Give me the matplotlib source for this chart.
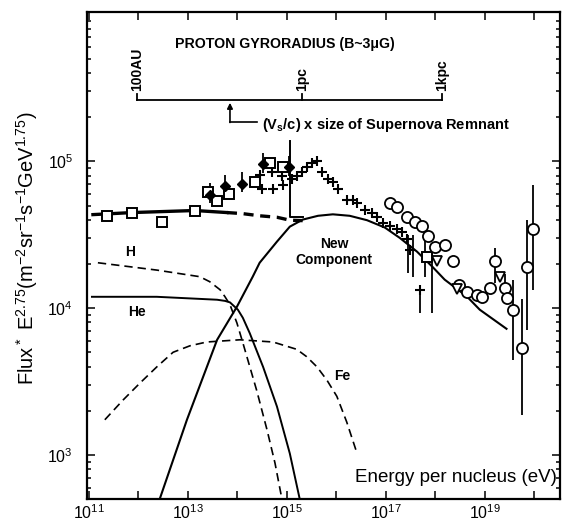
"""
Cosmic ray all-particle spectrum (flux * E^2.75) with model components.
"""
import numpy as np
import matplotlib
matplotlib.use('Agg')
import matplotlib.pyplot as plt

plt.rcParams['font.family'] = ['Liberation Sans', 'DejaVu Sans']
plt.rcParams['mathtext.default'] = 'regular'

# model curves as (log10 E, log10 flux)
h_logE = [11.18, 12.37, 13.24, 13.44, 13.65, 13.75, 13.85, 13.99, 14.11, 14.39,
          14.60, 14.76, 14.90]
h_logF = [4.31, 4.26, 4.215, 4.181, 4.126, 4.078, 4.024, 3.90, 3.765, 3.44,
          3.17, 2.945, 2.70]

he_logE = [11.06, 12.37, 13.59, 13.75, 13.85, 14.01, 14.11, 14.25, 14.52, 14.80,
           15.06, 15.26]
he_logF = [4.078, 4.078, 4.058, 4.05, 4.04, 3.99, 3.935, 3.83, 3.60, 3.33,
           3.01, 2.70]

fe_logE = [11.32, 11.69, 12.03, 12.37, 12.70, 13.04, 13.38, 14.05, 14.72, 15.20,
           15.40, 15.61, 15.81, 16.01, 16.21, 16.41]
fe_logF = [3.24, 3.375, 3.49, 3.60, 3.70, 3.744, 3.77, 3.785, 3.77, 3.72,
           3.67, 3.60, 3.51, 3.40, 3.225, 3.02]

new_logE = [12.43, 12.98, 13.59, 13.99, 14.31, 14.45, 14.80, 15.06, 15.32, 15.63,
            15.93, 16.27, 16.62, 16.98, 17.28, 17.63, 17.95, 18.19, 18.64, 18.90,
            19.44]
new_logF = [2.70, 3.24, 3.785, 4.01, 4.215, 4.31, 4.454, 4.556, 4.604, 4.63,
            4.64, 4.63, 4.60, 4.55, 4.48, 4.386, 4.28, 4.195, 4.08, 3.99,
            3.86]

tot_solid_logE = [11.08, 11.87, 13.14, 13.79]
tot_solid_logF = [4.638, 4.652, 4.666, 4.652]
tot_dash_logE = [13.79, 14.10, 14.45, 14.80, 15.06, 15.32]
tot_dash_logF = [4.652, 4.645, 4.63, 4.62, 4.60, 4.597]

# measurements
sq_logE = [11.36, 11.87, 12.47, 13.14, 13.40, 13.59, 13.83, 14.35, 14.66, 14.92, 17.83]
sq_logF = [4.63, 4.65, 4.59, 4.665, 4.79, 4.73, 4.78, 4.857, 4.99, 4.96, 4.35]

dia_logE = [13.44, 13.75, 14.09, 14.52, 15.04]
dia_logF = [4.775, 4.83, 4.85, 4.98, 4.96]

cross_logE = [14.45, 14.70, 14.90, 14.49, 14.72, 14.92, 15.10, 15.20, 15.30, 15.40,
              15.51, 15.61, 15.71, 15.83, 15.93, 16.03, 16.21, 16.33, 16.41, 16.58,
              16.72, 16.82, 16.94, 17.08, 17.22, 17.32, 17.42, 17.48, 17.69]
cross_logF = [4.91, 4.93, 4.90, 4.81, 4.81, 4.84, 4.88, 4.90, 4.93, 4.96,
              4.99, 5.00, 4.93, 4.88, 4.86, 4.81, 4.74, 4.74, 4.72, 4.67,
              4.65, 4.62, 4.58, 4.56, 4.54, 4.52, 4.47, 4.40, 4.125]

circ_logE = [17.08, 17.22, 17.42, 17.59, 17.73, 17.85, 17.99, 18.19, 18.35, 18.49,
             18.64, 18.84, 18.94, 19.10, 19.20, 19.40, 19.46, 19.57, 19.75, 19.85, 19.97]
circ_logF = [4.72, 4.69, 4.62, 4.59, 4.56, 4.49, 4.42, 4.43, 4.32, 4.16,
             4.11, 4.09, 4.08, 4.14, 4.32, 4.14, 4.07, 3.99, 3.73, 4.28, 4.54]

tri_logE = [18.03, 18.43, 19.30]
tri_logF = [4.32, 4.13, 4.21]

# vertical error bars: log10 E, low, high
bar_logE = [17.44, 17.55, 17.69, 17.79, 17.93, 19.20, 19.40, 19.57, 19.75, 19.85, 19.97]
bar_lo = [4.24, 4.215, 3.97, 4.215, 3.97, 4.17, 4.06, 3.65, 3.27, 3.85, 4.125]
bar_hi = [4.50, 4.50, 4.16, 4.49, 4.38, 4.41, 4.23, 4.195, 4.06, 4.60, 4.84]

# gyroradius scale on top
gyro_logE = [11.97, 15.30, 18.13]
gyro_labels = ['100AU', '1pc', '1kpc']


def p(v):
    return 10 ** np.asarray(v, dtype=float)


fig = plt.figure(figsize=(5.65, 5.25), dpi=100)
ax = fig.add_axes([0.154, 0.0495, 0.837, 0.928])
ax.set_xscale('log')
ax.set_yscale('log')
ax.set_xlim(p(10.96), p(20.52))
ax.set_ylim(p(2.70), p(6.02))

k = 'black'
ax.plot(p(h_logE), p(h_logF), color=k, lw=1.2, ls=(0, (5, 3)))
ax.plot(p(he_logE), p(he_logF), color=k, lw=1.4)
ax.plot(p(fe_logE), p(fe_logF), color=k, lw=1.2, ls=(0, (5, 3)))
ax.plot(p(new_logE), p(new_logF), color=k, lw=1.5)
ax.plot(p(tot_solid_logE), p(tot_solid_logF), color=k, lw=2.4)
ax.plot(p(tot_dash_logE), p(tot_dash_logF), color=k, lw=2.4, ls=(0, (3, 2)))

# supernova remnant marker
ax.plot(p([15.06, 15.06, 15.32]), p([5.137, 4.62, 4.62]), color=k, lw=1.4)

ax.vlines(p(bar_logE), p(bar_lo), p(bar_hi), color=k, lw=1.3)
ax.errorbar(p(dia_logE), p(dia_logF), yerr=[p(dia_logF) - p(np.array(dia_logF) - 0.06),
            p(np.array(dia_logF) + 0.08) - p(dia_logF)],
            fmt='D', color=k, ms=5, elinewidth=1.3, capsize=0)
ax.plot(p(sq_logE), p(sq_logF), 's', mfc='white', mec=k, mew=1.4, ms=7)
ax.plot(p(cross_logE), p(cross_logF), '+', color=k, mew=1.5, ms=7)
ax.plot(p(circ_logE), p(circ_logF), 'o', mfc='white', mec=k, mew=1.3, ms=8)
ax.plot(p(tri_logE), p(tri_logF), 'v', mfc='white', mec=k, mew=1.3, ms=7)

# labels inside the plot
tfont = dict(fontsize=10, fontweight='bold')
ax.text(p(11.83), p(4.386), 'H', ha='center', va='center', **tfont)
ax.text(p(11.97), p(3.976), 'He', ha='center', va='center', **tfont)
ax.text(p(16.11), p(3.54), 'Fe', ha='center', va='center', **tfont)
ax.text(p(15.95), p(4.385), 'New\nComponent', ha='center', va='center',
        linespacing=1.15, **tfont)
ax.text(0.994, 0.045, 'Energy per nucleus (eV)', transform=ax.transAxes,
        ha='right', va='center', fontsize=13.5)

# gyroradius bracket
ax.plot(p([gyro_logE[0], gyro_logE[-1]]), p([5.42, 5.42]), color=k, lw=1.3)
for e, lab in zip(gyro_logE, gyro_labels):
    ax.plot(p([e, e]), p([5.42, 5.46]), color=k, lw=1.3)
    ax.text(p(e), p(5.48), lab, rotation=90, ha='center', va='bottom',
            fontsize=10, fontweight='bold')
ax.text(p(12.74), p(5.80), 'PROTON GYRORADIUS (B~3\u03bcG)', ha='left',
        va='center', fontsize=10.2, fontweight='bold')
ax.annotate('', xy=(p(13.85), p(5.40)), xytext=(p(13.85), p(5.266)),
            arrowprops=dict(arrowstyle='-|>', color=k, lw=1.2,
                            mutation_scale=8, shrinkA=0, shrinkB=0))
ax.plot(p([13.85, 14.40]), p([5.266, 5.266]), color=k, lw=1.2)
ax.text(p(14.49), p(5.25), '(V$_s$/c) x size of Supernova Remnant',
        ha='left', va='center', fontsize=10.5, fontweight='bold')

# axes styling
for s in ax.spines.values():
    s.set_linewidth(1.6)
ax.set_xticks(p([11, 12, 13, 14, 15, 16, 17, 18, 19, 20]))
ax.set_xticklabels(['$10^{11}$', '', '$10^{13}$', '', '$10^{15}$', '',
                    '$10^{17}$', '', '$10^{19}$', ''])
ax.set_yticks(p([3, 4, 5]))
ax.set_yticklabels(['$10^{3}$', '$10^{4}$', '$10^{5}$'])
ax.tick_params(which='both', direction='in', top=True, right=True,
               labelsize=11.5, width=1.1)
ax.tick_params(which='major', length=6)
ax.tick_params(axis='x', which='major', pad=3)
ax.tick_params(axis='y', which='major', pad=10)
ax.tick_params(which='minor', length=3)
ax.set_ylabel('Flux$^*$ E$^{2.75}$(m$^{-2}$sr$^{-1}$s$^{-1}$GeV$^{1.75}$)',
              fontsize=14.5)
ax.yaxis.set_label_coords(-0.10, 0.515)

fig.savefig('out.png', dpi=100)
